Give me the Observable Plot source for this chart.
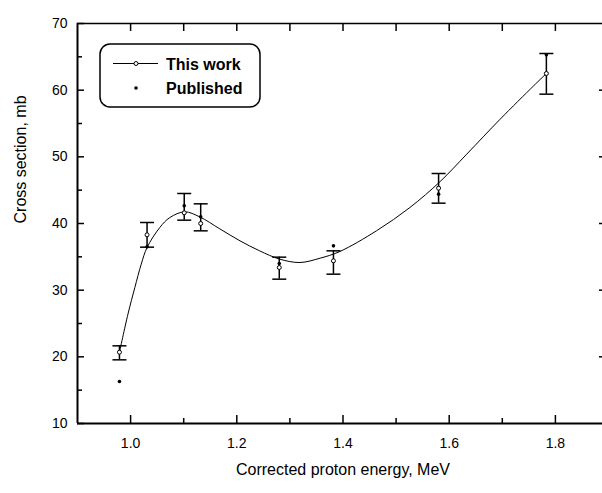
<!DOCTYPE html>
<html><head><meta charset="utf-8">
<script src="https://cdn.jsdelivr.net/npm/d3@7"></script>
<script src="https://cdn.jsdelivr.net/npm/@observablehq/plot@0.6"></script>
<style>
body{margin:0;background:#fff;font-family:Arial,"Liberation Sans",sans-serif;}
#wrap{position:relative;width:602px;height:493px;overflow:hidden;}
#legend{position:absolute;left:99px;top:43px;}
</style></head><body><div id="wrap"></div>
<script>
// "This work" measurements
const energy     = [0.979, 1.031, 1.101, 1.132, 1.280, 1.382, 1.580, 1.783];
const sigma      = [20.7, 38.3, 41.6, 40.0, 33.4, 34.4, 45.3, 62.5];
const sigmaLow   = [19.55, 36.45, 40.5, 38.9, 31.65, 32.4, 43.05, 59.4];
const sigmaHigh  = [21.65, 40.15, 44.5, 42.95, 34.95, 35.9, 47.5, 65.5];
// Published values
const pubEnergy  = [0.979, 1.031, 1.101, 1.132, 1.280, 1.382, 1.580, 1.783];
const pubSigma   = [16.3, 36.5, 42.65, 41.0, 34.0, 36.65, 44.4, 65.3];
// Fitted curve
const fitEnergy  = [0.979, 0.995, 1.008, 1.020, 1.031, 1.055, 1.074, 1.102, 1.130, 1.168, 1.206, 1.243, 1.281, 1.319, 1.357, 1.394, 1.463, 1.526, 1.583, 1.633, 1.696, 1.759, 1.783];
const fitSigma   = [20.7, 26.4, 30.4, 33.9, 36.4, 39.4, 40.9, 41.75, 41.0, 39.2, 37.4, 35.9, 34.65, 34.15, 34.8, 35.8, 38.9, 42.4, 46.3, 50.4, 55.65, 60.65, 62.5];
// Axis ticks
const xMajor = [1.0, 1.2, 1.4, 1.6, 1.8];
const xMinor = [1.1, 1.3, 1.5, 1.7];
const yMajor = [10, 20, 30, 40, 50, 60, 70];
const yMinor = [15, 25, 35, 45, 55, 65];
const xTitle = "Corrected proton energy, MeV";
const yTitle = "Cross section, mb";
const legendLabels = ["This work", "Published"];

const data = energy.map((e, i) => ({e, s: sigma[i], lo: sigmaLow[i], hi: sigmaHigh[i]}));
const pub = pubEnergy.map((e, i) => ({e, s: pubSigma[i]}));
const fit = fitEnergy.map((e, i) => ({e, s: fitSigma[i]}));
const cap = {draw(ctx, size) { const w = Math.sqrt(size / Math.PI); ctx.moveTo(-w, 0); ctx.lineTo(w, 0); }};
const blank = () => "";

const plot = Plot.plot({
  width: 602, height: 493,
  marginLeft: 77, marginRight: 0, marginTop: 23, marginBottom: 70,
  style: {fontFamily: "Arial, 'Liberation Sans', sans-serif", fontSize: "14px", background: "#fff", color: "#000", overflow: "visible"},
  x: {domain: [0.9, 1.8887], label: null},
  y: {domain: [10, 70], label: null},
  marks: [
    Plot.ruleY([10], {stroke: "#000", strokeWidth: 2}),
    Plot.ruleY([70], {stroke: "#000", strokeWidth: 1.5}),
    Plot.ruleX([0.9], {stroke: "#000", strokeWidth: 2}),
    // inward ticks
    Plot.axisX(xMajor, {anchor: "bottom", tickSize: 8, insetBottom: 8, tickFormat: blank, strokeWidth: 1.5}),
    Plot.axisX(xMinor, {anchor: "bottom", tickSize: 5, insetBottom: 5, tickFormat: blank, strokeWidth: 1.5}),
    Plot.axisX(xMajor.concat(xMinor), {anchor: "top", tickSize: 7, insetTop: 7, tickFormat: blank, strokeWidth: 1.5}),
    Plot.axisY(yMajor, {anchor: "left", tickSize: 7, insetLeft: 7, tickFormat: blank, strokeWidth: 1.5}),
    Plot.axisY(yMinor, {anchor: "left", tickSize: 5, insetLeft: 5, tickFormat: blank, strokeWidth: 1.5}),
    Plot.axisY(yMajor.slice(1, 6), {anchor: "right", tickSize: 4, insetRight: 4, tickFormat: blank, strokeWidth: 1.5}),
    // labels
    Plot.axisX(xMajor, {anchor: "bottom", tickSize: 0, tickPadding: 15, tickFormat: d3.format(".1f"), fontSize: 14}),
    Plot.axisY(yMajor, {anchor: "left", tickSize: 0, tickPadding: 10, tickFormat: d3.format("d"), fontSize: 14}),
    Plot.text([xTitle], {frameAnchor: "bottom", dy: 51, dx: 3, fontSize: 16, fill: "#000"}),
    Plot.text([yTitle], {frameAnchor: "left", dx: -57, rotate: -90, fontSize: 16, fill: "#000"}),
    // fit curve
    Plot.line(fit, {x: "e", y: "s", curve: "catmull-rom", stroke: "#000", strokeWidth: 1}),
    // error bars
    Plot.ruleX(data, {x: "e", y1: "lo", y2: "hi", stroke: "#000", strokeWidth: 1.5}),
    Plot.dot(data, {x: "e", y: "lo", symbol: cap, r: 7, stroke: "#000", strokeWidth: 1.5, fill: "none"}),
    Plot.dot(data, {x: "e", y: "hi", symbol: cap, r: 7, stroke: "#000", strokeWidth: 1.5, fill: "none"}),
    // points
    Plot.dot(pub, {x: "e", y: "s", r: 1.8, fill: "#000", stroke: "none"}),
    Plot.dot(data, {x: "e", y: "s", r: 2, fill: "#fff", stroke: "#000", strokeWidth: 1})
  ]
});
const wrap = document.getElementById("wrap");
wrap.appendChild(plot);

// Legend
const ns = "http://www.w3.org/2000/svg";
const lg = document.createElementNS(ns, "svg");
lg.setAttribute("id", "legend");
lg.setAttribute("width", 162); lg.setAttribute("height", 66);
lg.innerHTML = `
<rect x="1" y="1" width="160" height="63" rx="10" ry="10" fill="#fff" stroke="#000" stroke-width="1.5"/>
<line x1="14" y1="20.5" x2="59" y2="20.5" stroke="#000" stroke-width="1"/>
<circle cx="37" cy="20.5" r="2" fill="#fff" stroke="#000" stroke-width="1"/>
<circle cx="37" cy="45" r="1.8" fill="#000"/>
<text x="67" y="27" font-size="16" font-weight="bold" font-family="Arial, 'Liberation Sans', sans-serif">${legendLabels[0]}</text>
<text x="67" y="50.5" font-size="16" font-weight="bold" font-family="Arial, 'Liberation Sans', sans-serif">${legendLabels[1]}</text>`;
wrap.appendChild(lg);
</script>
</body></html>
